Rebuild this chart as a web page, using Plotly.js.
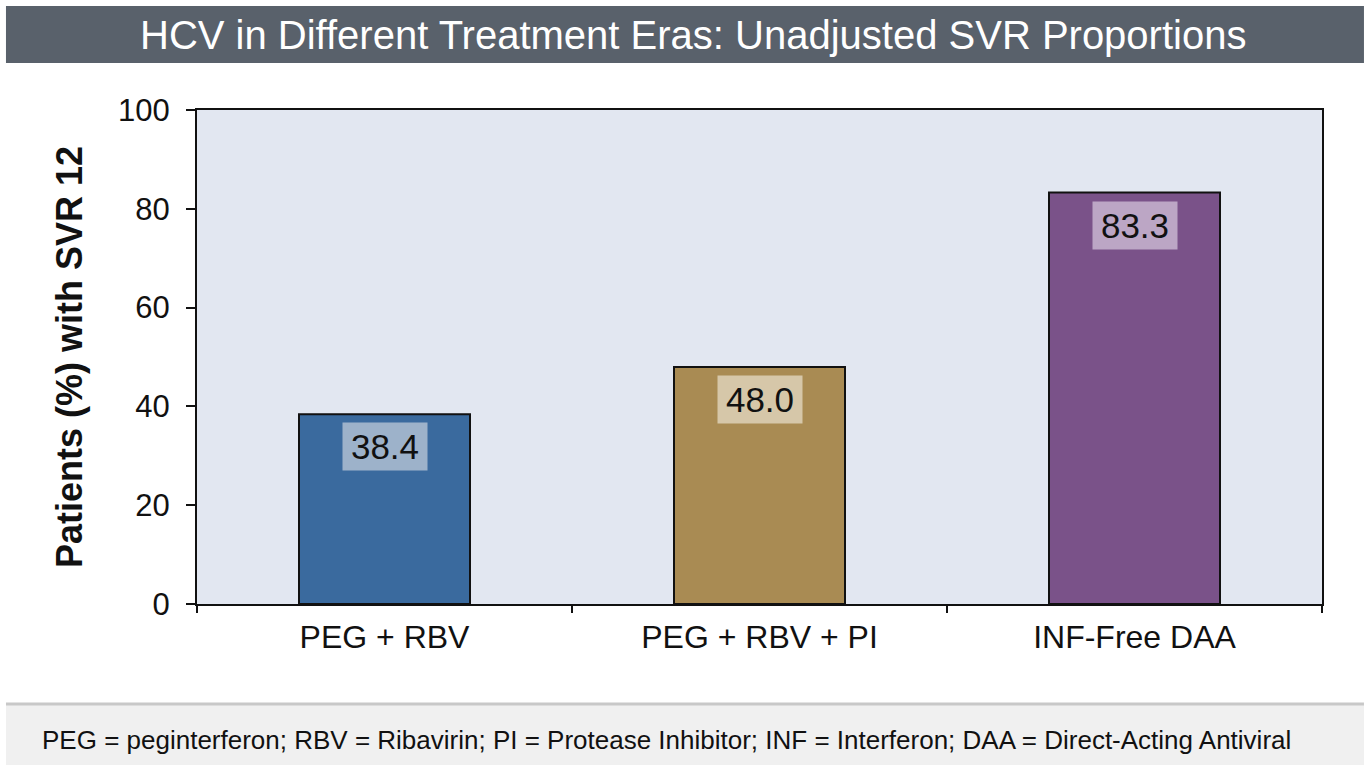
<!DOCTYPE html>
<html>
<head>
<meta charset="utf-8">
<script src="https://cdn.plot.ly/plotly-3.0.1.min.js"></script>
<style>html,body{margin:0;padding:0;background:#fff;}#chart{width:1370px;height:767px;}</style>
</head>
<body>
<div id="chart"></div>
<script>
const categories = ["PEG + RBV", "PEG + RBV + PI", "INF-Free DAA"];
const svrValues = [38.4, 48.0, 83.3];
const valueLabels = ["38.4", "48.0", "83.3"];
const barColors = ["#3a6a9e", "#a98b53", "#7a5289"];
const labelBoxColors = ["#9db2ca", "#d6c7a9", "#bca6c5"];
const yTicks = [0, 20, 40, 60, 80, 100];
const chartTitle = "HCV in Different Treatment Eras: Unadjusted SVR Proportions";
const yTitle = "Patients (%) with SVR 12";
const footnote = "PEG = peginterferon; RBV = Ribavirin; PI = Protease Inhibitor; INF = Interferon; DAA = Direct-Acting Antiviral";

const font = "Liberation Sans, Arial, sans-serif";

const trace = {
  type: "bar",
  x: categories,
  y: svrValues,
  width: 0.456,
  marker: { color: barColors, line: { color: "#111", width: 2 } },
  hoverinfo: "skip"
};

const annotations = categories.map((c, i) => ({
  x: c, y: svrValues[i], xref: "x", yref: "y",
  yanchor: "top", yshift: -8,
  text: valueLabels[i],
  showarrow: false,
  width: 76,
  bgcolor: labelBoxColors[i],
  borderpad: 4,
  font: { family: font, size: 35, color: "#111" }
}));

annotations.push({
  xref: "paper", yref: "paper", x: 0.441, y: 1.151,
  xanchor: "center", yanchor: "middle",
  text: chartTitle, showarrow: false,
  font: { family: font, size: 40, color: "#ffffff" }
});
annotations.push({
  xref: "paper", yref: "paper", x: -0.1396, y: -0.2743,
  xanchor: "left", yanchor: "middle",
  text: footnote, showarrow: false,
  font: { family: font, size: 26, color: "#111" }
});

const layout = {
  width: 1370, height: 767,
  margin: { l: 197, r: 48, t: 110, b: 163 },
  paper_bgcolor: "#ffffff",
  plot_bgcolor: "#e2e7f1",
  showlegend: false,
  font: { family: font, color: "#111" },
  xaxis: {
    type: "category",
    showline: true, linecolor: "#111", linewidth: 2, mirror: true,
    ticks: "outside", tickson: "boundaries", ticklen: 7, tickwidth: 2, tickcolor: "#111",
    ticklabelstandoff: 4,
    tickfont: { family: font, size: 32, color: "#111" },
    showgrid: false, zeroline: false
  },
  yaxis: {
    range: [0, 100],
    tickvals: yTicks,
    showline: true, linecolor: "#111", linewidth: 2, mirror: true,
    ticks: "outside", ticklen: 9, tickwidth: 2, tickcolor: "#111",
    ticklabelstandoff: 10,
    tickfont: { family: font, size: 31, color: "#111" },
    showgrid: false, zeroline: false,
    title: { text: "<b>" + yTitle + "</b>", font: { family: font, size: 36, color: "#111" }, standoff: 24 }
  },
  shapes: [
    { type: "rect", xref: "paper", yref: "paper", x0: -0.1698, x1: 1.0373, y0: 1.0951, y1: 1.2105,
      fillcolor: "#59616b", line: { width: 0 }, layer: "below" },
    { type: "rect", xref: "paper", yref: "paper", x0: -0.1698, x1: 1.0373, y0: -0.3259, y1: -0.2004,
      fillcolor: "#f0f0f0", line: { width: 0 }, layer: "below" },
    { type: "line", xref: "paper", yref: "paper", x0: -0.1698, x1: 1.0373, y0: -0.2024, y1: -0.2024,
      line: { color: "#c8c8c8", width: 3 } }
  ],
  annotations: annotations
};

Plotly.newPlot("chart", [trace], layout, { displayModeBar: false, staticPlot: true });
</script>
</body>
</html>
